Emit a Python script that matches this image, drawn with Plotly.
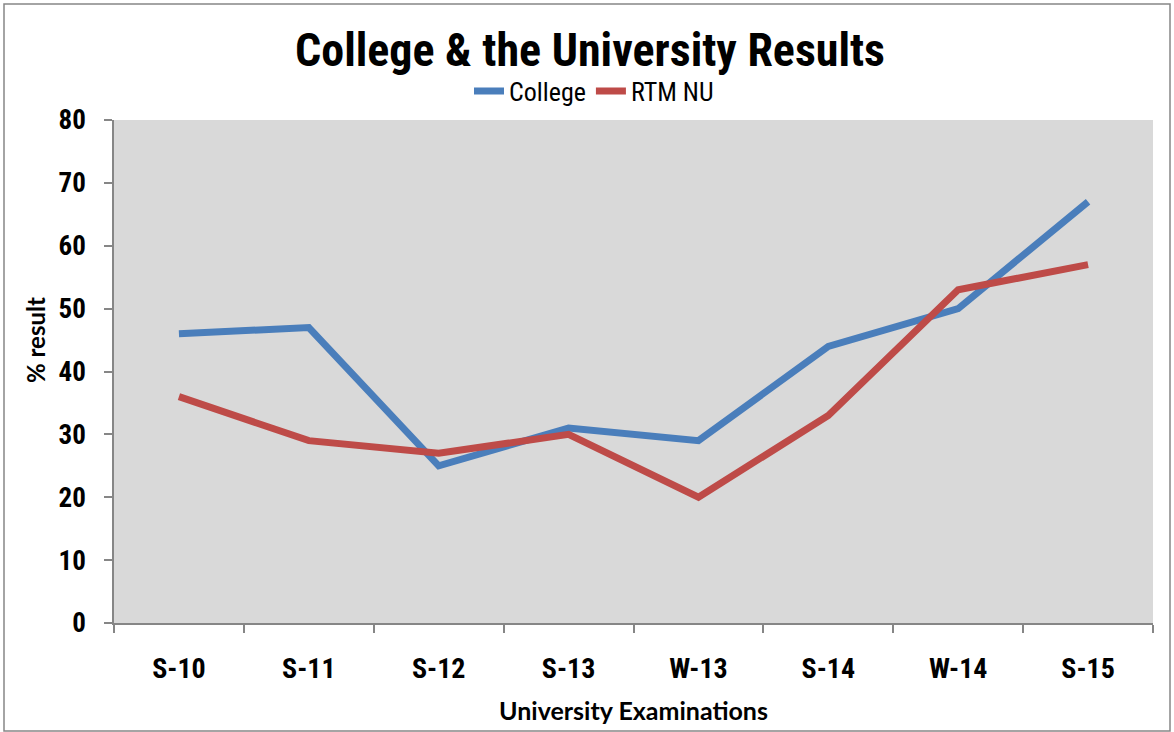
import plotly.graph_objects as go

categories = ["S-10", "S-11", "S-12", "S-13", "W-13", "S-14", "W-14", "S-15"]
college = [46, 47, 25, 31, 29, 44, 50, 67]
rtm_nu = [36, 29, 27, 30, 20, 33, 53, 57]
y_ticks = [0, 10, 20, 30, 40, 50, 60, 70, 80]

W, H = 1174, 732
L, R, T, B = 114, 1153, 120, 623
pw, ph = R - L, B - T

NARROW = "Roboto Condensed, Liberation Sans Narrow, Arial Narrow, sans-serif"
TITLEF = "Lato, Carlito, Calibri, sans-serif"

fig = go.Figure()
fig.add_trace(go.Scatter(x=categories, y=college, mode="lines", name="College",
                         line=dict(color="#4A7EBB", width=7)))
fig.add_trace(go.Scatter(x=categories, y=rtm_nu, mode="lines", name="RTM NU",
                         line=dict(color="#BE4B48", width=7)))

def px(x):
    return (x - L) / pw

def py(y):
    return (B - y) / ph

fig.update_layout(
    width=W, height=H,
    margin=dict(l=L, r=W - R, t=T, b=H - B, pad=0, autoexpand=False),
    paper_bgcolor="white",
    plot_bgcolor="#D9D9D9",
    font=dict(family=NARROW, color="black"),
    title=dict(text="<b>College & the University Results</b>",
               font=dict(size=46, family=NARROW, color="black"),
               x=px(590), xref="paper", xanchor="center",
               y=1 - 50 / H, yref="container", yanchor="middle"),
    showlegend=True,
    legend=dict(orientation="h", x=px(594), xanchor="center", y=py(91), yanchor="middle",
                font=dict(size=26, family=NARROW), bgcolor="rgba(0,0,0,0)",
                tracegroupgap=0),
    xaxis=dict(
        type="category", tickson="boundaries", automargin=False,
        showgrid=False, zeroline=False,
        showline=True, linecolor="#868686", linewidth=1.5,
        ticks="outside", ticklen=8, tickcolor="#868686", tickwidth=1.5,
        tickfont=dict(size=28, family=NARROW, color="black", weight="bold"),
        ticklabelstandoff=20,
        title=dict(text="<b>University Examinations</b>", font=dict(size=25, family=TITLEF), standoff=18),
        range=[-0.5, 7.5],
    ),
    yaxis=dict(
        range=[0, 80], tickvals=y_ticks, automargin=False,
        showgrid=False, zeroline=False,
        showline=True, linecolor="#868686", linewidth=1.5,
        ticks="outside", ticklen=8, tickcolor="#868686", tickwidth=1.5,
        tickfont=dict(size=27, family=NARROW, color="black", weight="bold"),
        ticklabelstandoff=13,
    ),
    annotations=[dict(text="<b>% result</b>", textangle=-90, showarrow=False,
                      xref="paper", yref="paper", x=px(35), y=py(340),
                      xanchor="center", yanchor="middle",
                      font=dict(size=24, family=TITLEF, color="black"))],
    shapes=[dict(type="rect", xref="paper", yref="paper",
                 x0=px(4), x1=px(1170), y0=py(731), y1=py(4),
                 line=dict(color="#868686", width=1.5), fillcolor="rgba(0,0,0,0)",
                 layer="below")],
)

fig.write_html("out.html", post_script="document.body.style.margin='0';",
               config={"displayModeBar": False})
